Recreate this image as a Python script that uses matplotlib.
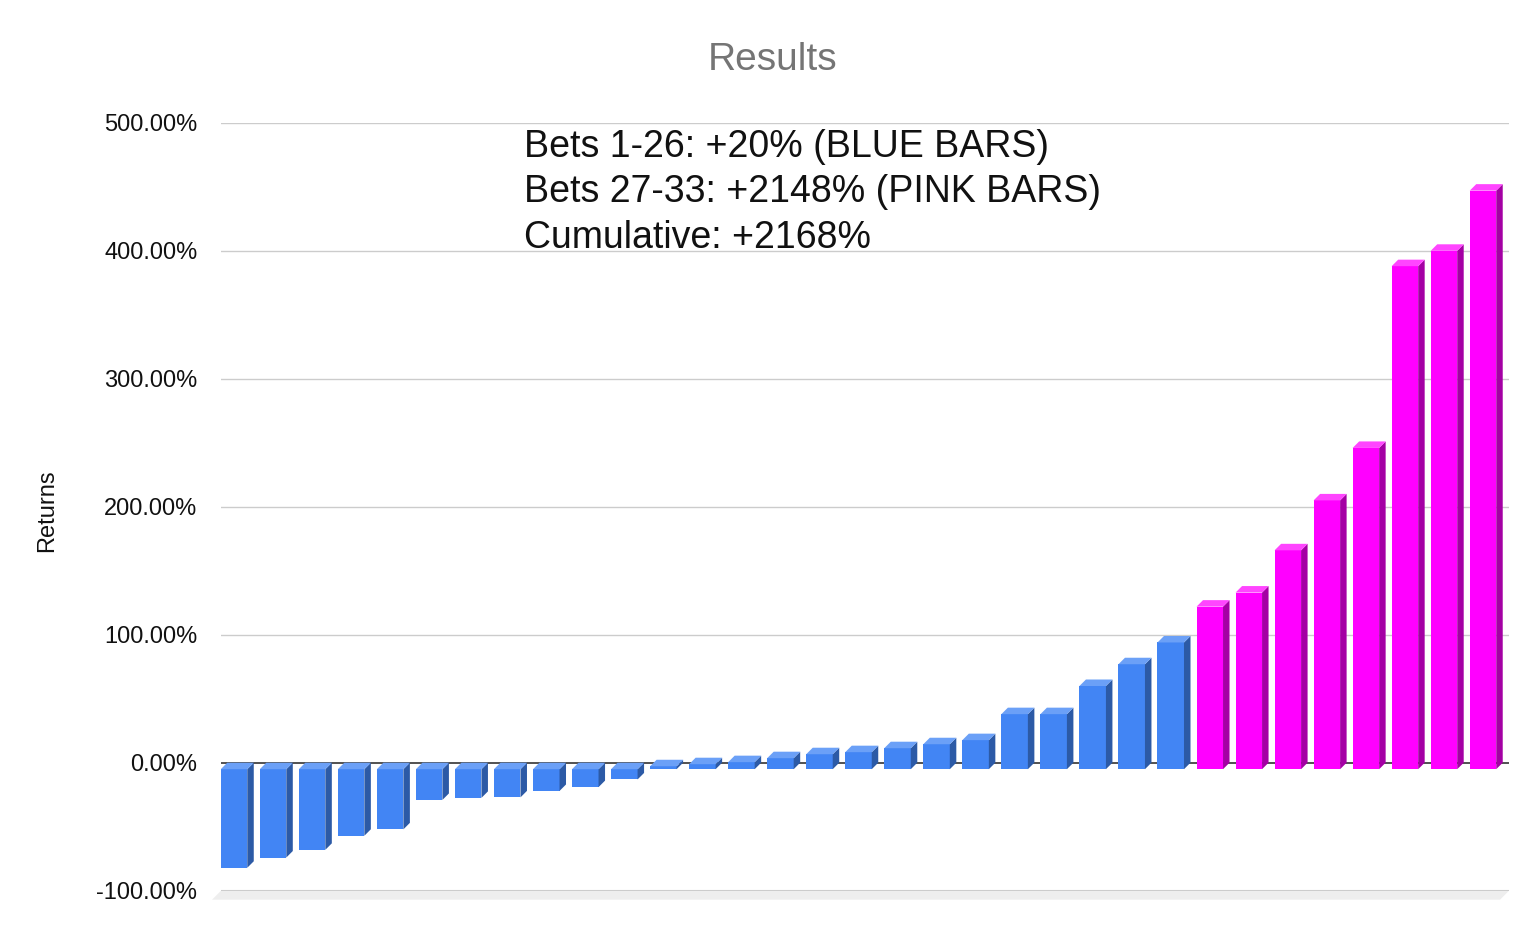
import matplotlib.pyplot as plt
from matplotlib.patches import Polygon
from matplotlib.ticker import FuncFormatter

plt.rcParams['font.family'] = ['Liberation Sans', 'DejaVu Sans']

# returns per bet, sorted
returns = [-77, -69, -63, -52, -47, -24, -22.4, -22, -17, -14, -8,
           2.3, 3.9, 5.5, 8.6, 11.7, 13.3, 16.4, 19.5, 22.7,
           43, 43, 65, 82, 99,
           127, 138, 171, 210, 251, 393, 405, 452]
n_blue = 25
yticks = [-100, 0, 100, 200, 300, 400, 500]
title = "Results"
ylabel = "Returns"
note = ["Bets 1-26: +20% (BLUE BARS)",
        "Bets 27-33: +2148% (PINK BARS)",
        "Cumulative: +2168%"]

# front, side, top colours
blue = ("#4285f4", "#2c5aa6", "#6ba0f7")
pink = ("#ff00ff", "#a400a4", "#ff45ff")

W, H = 1540, 938
fig = plt.figure(figsize=(W / 100, H / 100), dpi=100)
left, right, top, bottom = 221, 1509, 122.7, 890.7
ax = fig.add_axes([left / W, 1 - bottom / H, (right - left) / W, (bottom - top) / H])

n = len(returns)
xmin, xmax = -0.5, n - 0.5
ymin, ymax = -100, 500
ax.set_xlim(xmin, xmax)
ax.set_ylim(ymin, ymax)

# pixel -> data conversions for the fake 3d depth
px_x = (xmax - xmin) / (right - left)
px_y = (ymax - ymin) / (bottom - top)
dx, dy = 6.5 * px_x, 6.5 * px_y
w = 26.5 * px_x

# grid on the back wall
for t in yticks:
    if t == 0:
        continue
    ax.axhline(t, color="#cccccc", lw=1.5 if t == ymin else 1.0, zorder=1)
ax.axhline(0, color="#333333", lw=1.2, zorder=2)

# floor strip
fdx, fdy = 9 * px_x, 9 * px_y
floor = Polygon([(xmin, ymin), (xmax, ymin), (xmax - fdx, ymin - fdy), (xmin - fdx, ymin - fdy)],
                closed=True, fc="#eeeeee", ec="none", clip_on=False, zorder=0)
ax.add_patch(floor)

xs = list(range(n))
cols = [blue if i < n_blue else pink for i in xs]

# front faces
ax.bar([x - dx for x in xs], returns, width=w, bottom=-dy,
       color=[c[0] for c in cols], edgecolor="none", zorder=3)

# side and top faces
for x, v, c in zip(xs, returns, cols):
    r = x + w / 2
    side = Polygon([(r - dx, -dy), (r, 0), (r, v), (r - dx, v - dy)],
                   closed=True, fc=c[1], ec="none", zorder=3)
    ax.add_patch(side)
    ty = max(v, 0)
    topf = Polygon([(x - w / 2 - dx, ty - dy), (r - dx, ty - dy), (r, ty), (x - w / 2, ty)],
                   closed=True, fc=c[2], ec="none", zorder=3)
    ax.add_patch(topf)

ax.set_yticks(yticks)
ax.yaxis.set_major_formatter(FuncFormatter(lambda v, p: f"{v:.2f}%"))
ax.tick_params(axis="y", length=0, pad=17, labelsize=17, labelcolor="#111111")
ax.set_xticks([])
for s in ax.spines.values():
    s.set_visible(False)

fig.text(772.5 / W, 1 - 60 / H, title, ha="center", va="center", fontsize=28, color="#757575")
fig.text(47 / W, 1 - 511 / H, ylabel, rotation=90, ha="center", va="center", fontsize=17, color="#111111")

for k, line in enumerate(note):
    fig.text(524 / W, 1 - (147 + 45.5 * k) / H, line, ha="left", va="center",
             fontsize=27, color="#111111")

fig.savefig("out.png", dpi=100)
